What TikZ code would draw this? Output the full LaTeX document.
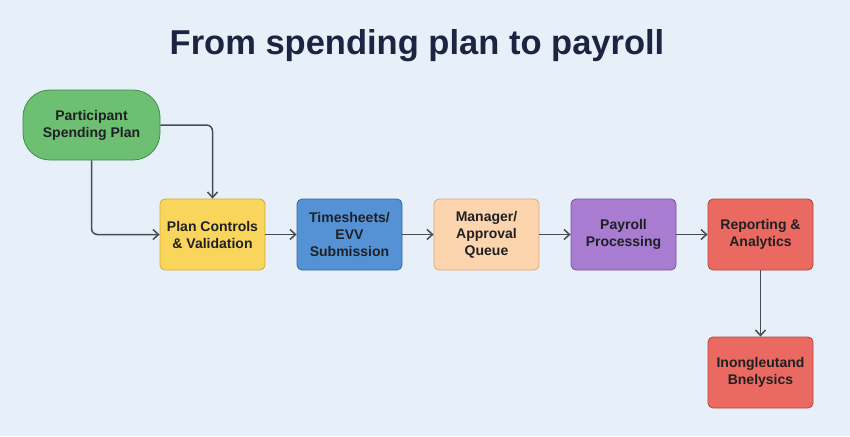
\documentclass[tikz,border=0pt]{standalone}
\usepackage{fontspec}
\setmainfont{Liberation Sans}
\usepackage{tikz}
\usetikzlibrary{arrows.meta}

\definecolor{bgblue}{HTML}{E7F0F8}
\definecolor{titlenavy}{HTML}{1B2440}
\definecolor{arrowgray}{HTML}{4A4B52}
\definecolor{textdark}{HTML}{1F2024}
\definecolor{greenfill}{HTML}{6DBF72}
\definecolor{greenline}{HTML}{3F8E4B}
\definecolor{yellowfill}{HTML}{F9D55C}
\definecolor{yellowline}{HTML}{D6A92E}
\definecolor{bluefill}{HTML}{5592D5}
\definecolor{blueline}{HTML}{2F68A6}
\definecolor{orangefill}{HTML}{FCD4AE}
\definecolor{orangeline}{HTML}{E0A676}
\definecolor{purplefill}{HTML}{A77CD1}
\definecolor{purpleline}{HTML}{7A53A6}
\definecolor{redfill}{HTML}{EA6A62}
\definecolor{redline}{HTML}{B8413C}

\tikzset{
  stagebox/.style={rectangle, rounded corners=5pt, line width=0.8pt,
    minimum width=105pt, minimum height=71pt, align=center,
    inner sep=2pt, text=textdark, font=\fontsize{14}{17}\selectfont\bfseries},
  flow/.style={draw=arrowgray, line width=1.5pt, rounded corners=6pt,
    -{Straight Barb[length=5.5pt,width=10pt,line width=1.5pt]}}
}

\begin{document}
\begin{tikzpicture}[x=1pt,y=-1pt]
%set diagram to the size of the reference
\fill[bgblue] (0,0) rectangle (850,436);
\useasboundingbox (0,0) rectangle (850,436);

% Title
\node (title) at (417,46) [text=titlenavy, font=\fontsize{34.5}{40}\selectfont\bfseries] {From spending plan to payroll};

% Start: pill shape
\node (plan) at (91.5,125) [stagebox, rounded corners=27pt, minimum width=137pt, minimum height=70pt,
  fill=greenfill, draw=greenline] {Participant\\Spending Plan};

% Stages along the row
\node (controls) at (212.5,234.5) [stagebox, fill=yellowfill, draw=yellowline] {Plan Controls\\\& Validation};
\node (timesheets) at (349.5,234.5) [stagebox, fill=bluefill, draw=blueline] {Timesheets/\\EVV\\Submission};
\node (approval) at (486.5,234.5) [stagebox, fill=orangefill, draw=orangeline] {Manager/\\Approval\\Queue};
\node (payroll) at (623.5,234.5) [stagebox, fill=purplefill, draw=purpleline] {Payroll\\Processing};
\node (reporting) at (760.5,234.5) [stagebox, fill=redfill, draw=redline] {Reporting \&\\Analytics};
\node (extra) at (760.5,372.5) [stagebox, fill=redfill, draw=redline] {Inongleutand\\Bnelysics};

% Connectors
\draw[flow] (plan.east |- 0,125) -| (controls.north);
\draw[flow] (plan.south) |- (controls.west);
\draw[flow] (controls) -- (timesheets);
\draw[flow] (timesheets) -- (approval);
\draw[flow] (approval) -- (payroll);
\draw[flow] (payroll) -- (reporting);
\draw[flow] (reporting) -- (extra);
\end{tikzpicture}
\end{document}
